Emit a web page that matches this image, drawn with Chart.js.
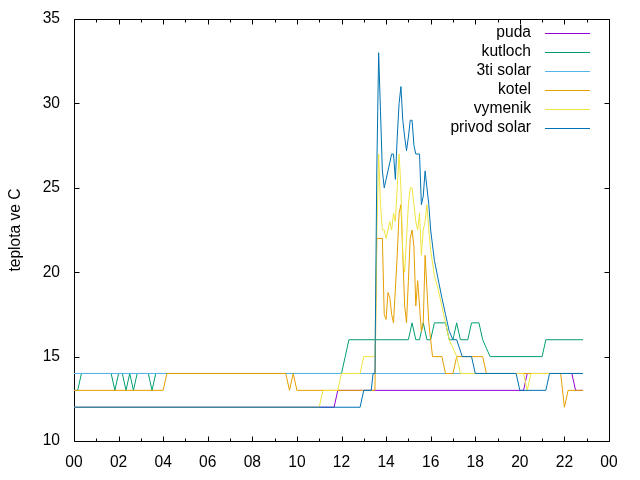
<!DOCTYPE html>
<html><head><meta charset="utf-8">
<script src="https://cdn.jsdelivr.net/npm/chart.js@4/dist/chart.umd.min.js"></script>
<style>html,body{margin:0;padding:0;background:#fff}</style>
</head><body>
<canvas id="c" width="640" height="480"></canvas>
<script>
// ---- data (time of day "HH:MM", temperature in C) ----
const seriesNames = ["puda","kutloch","3ti solar","kotel","vymenik","privod solar"];
const seriesColors = ["#9400d3","#009e73","#56b4e9","#e69f00","#f0e442","#0072b2"];

const pudaT = ["00:00","11:40","11:50","20:10","20:20","22:20","22:30","22:50"];
const pudaV = [12,12,13,13,14,14,13,13];

const kutlochT = ["00:00","00:10","00:20","01:40","01:50","02:00","02:10","02:20","02:30","02:40","02:50","03:20","03:30","03:40","12:00","12:10","12:20","15:00","15:10","15:20","15:30","15:40","15:50","16:00","16:10","16:40","16:50","17:00","17:10","17:20","17:40","17:50","18:10","18:20","18:30","18:40","21:00","21:10","22:50"];
const kutlochV = [13,13,14,14,13,14,14,13,14,13,14,14,13,14,14,15,16,16,17,16,16,17,16,16,17,17,16,16,17,16,16,17,17,16,15.5,15,15,16,16];

const solar3T = ["00:00","22:50"];
const solar3V = [14,14];

const kotelT = ["00:00","04:00","04:10","09:30","09:40","09:50","10:00","13:30","13:35","13:50","13:55","14:00","14:05","14:10","14:15","14:20","14:25","14:30","14:35","14:40","14:45","14:50","14:55","15:00","15:05","15:10","15:15","15:20","15:25","15:30","15:35","15:40","15:45","15:50","15:55","16:00","16:05","16:30","16:40","17:00","17:10","18:20","18:30","21:50","22:00","22:10","22:50"];
const kotelV = [13,13,14,14,13,14,13,13,22,22,17.5,17.2,18.8,18.5,17.5,17,19,21,23.5,24,21,18,17,19.5,22,22.5,21.5,18,19.5,18,16.5,17,21,19,17,16,15,15,14,14,15,15,14,14,12,13,13];

const vymenikT = ["00:00","11:00","11:10","11:50","12:00","12:50","13:00","13:30","13:35","13:40","13:45","13:50","13:55","14:00","14:05","14:10","14:15","14:20","14:25","14:30","14:35","14:40","14:45","14:50","14:55","15:00","15:05","15:10","15:15","15:20","15:25","15:30","15:35","15:40","15:45","15:50","15:55","16:00","16:10","16:20","16:30","16:40","16:50","17:00","17:10","17:20","20:10","20:20","20:30","22:50"];
const vymenikV = [12,12,13,13,14,14,15,15,22,27,24,22.5,22.5,22,22.5,23,22.5,23.5,23,25,27,25,21,20,22,24,25,25,24,23,22.5,23.5,21,22.5,23,24,22.5,21.3,19.8,19,18,17,16,15.5,15,14,14,13,14,14];

const privodT = ["00:00","12:50","13:00","13:20","13:25","13:30","13:35","13:40","13:45","13:50","13:55","14:00","14:05","14:10","14:15","14:20","14:25","14:30","14:35","14:40","14:45","14:50","14:55","15:00","15:05","15:10","15:15","15:20","15:30","15:35","15:40","15:45","15:50","15:55","16:00","16:10","16:20","16:30","16:40","16:50","17:00","17:10","17:25","17:50","18:00","19:50","20:00","21:10","21:20","22:50"];
const privodV = [12,12,13,13,14,14,26,33,29.5,26,25,25.5,26,26.5,27,27,25.5,28,30,31,29,28,27.2,28,29,29,27.5,27,27,24,24.5,26,25,24,22.5,20.7,19.6,18.5,17.5,16.5,16,16,15,15,14,14,13,13,14,14];

const xTickValues = [0,2,4,6,8,10,12,14,16,18,20,22,24];
const xTickLabels = ["00","02","04","06","08","10","12","14","16","18","20","22","00"];
const yTickValues = [10,15,20,25,30,35];

const FONT = "'Liberation Sans', Arial, sans-serif";
const FSIZE = 15.6;

function toHours(s){ const p = s.split(':'); return Number(p[0]) + Number(p[1]) / 60; }
function pts(T, V){ return T.map((t, i) => ({ x: toHours(t), y: V[i] })); }

const allT = [pudaT, kutlochT, solar3T, kotelT, vymenikT, privodT];
const allV = [pudaV, kutlochV, solar3V, kotelV, vymenikV, privodV];

const datasets = seriesNames.map((name, i) => ({
  label: name,
  data: pts(allT[i], allV[i]),
  borderColor: seriesColors[i],
  backgroundColor: seriesColors[i],
  borderWidth: 1,
  pointRadius: 0,
  tension: 0,
  fill: false,
  order: seriesNames.length - i
}));

const gnuFrame = {
  id: 'gnuFrame',
  beforeDatasetsDraw(chart){
    const ctx = chart.ctx, a = chart.chartArea;
    const xs = chart.scales.x, ys = chart.scales.y;
    const L = Math.round(a.left) + 0.5, R = Math.round(a.right) + 0.5;
    const T = Math.round(a.top) + 0.5, B = Math.round(a.bottom) + 0.5;
    ctx.save();
    ctx.strokeStyle = '#000';
    ctx.lineWidth = 1;
    ctx.beginPath();
    ctx.rect(L, T, R - L, B - T);
    for (let h = 0; h <= 24; h++) {
      const px = Math.round(xs.getPixelForValue(h)) + 0.5;
      const len = (h % 2 === 0) ? 5 : 3;
      ctx.moveTo(px, B); ctx.lineTo(px, B - len);
      ctx.moveTo(px, T); ctx.lineTo(px, T + len);
    }
    yTickValues.forEach(v => {
      const py = Math.round(ys.getPixelForValue(v)) + 0.5;
      ctx.moveTo(L, py); ctx.lineTo(L + 5, py);
      ctx.moveTo(R, py); ctx.lineTo(R - 5, py);
    });
    ctx.stroke();
    ctx.restore();
  },
  afterDatasetsDraw(chart){
    const ctx = chart.ctx;
    ctx.save();
    ctx.font = FSIZE + 'px ' + FONT;
    ctx.textAlign = 'right';
    ctx.textBaseline = 'middle';
    chart.data.datasets.forEach((ds, i) => {
      const y = 33 + i * 19;
      ctx.fillStyle = '#000';
      ctx.fillText(ds.label, 531, y);
      ctx.strokeStyle = ds.borderColor;
      ctx.lineWidth = 1;
      ctx.beginPath();
      ctx.moveTo(545, Math.round(y) + 0.5);
      ctx.lineTo(590, Math.round(y) + 0.5);
      ctx.stroke();
    });
    ctx.restore();
  }
};

new Chart(document.getElementById('c'), {
  type: 'line',
  data: { datasets },
  plugins: [gnuFrame],
  options: {
    responsive: false,
    animation: false,
    devicePixelRatio: 1,
    layout: { padding: { left: 0, right: 31, top: 19, bottom: 0 } },
    plugins: { legend: { display: false }, tooltip: { enabled: false } },
    scales: {
      x: {
        type: 'linear', min: 0, max: 24,
        afterFit(s){ s.height = 39; s.paddingLeft = 0; s.paddingRight = 0; },
        afterBuildTicks(s){ s.ticks = xTickValues.map(v => ({ value: v })); },
        ticks: {
          autoSkip: false, maxRotation: 0, padding: 12, color: '#000',
          font: { family: FONT, size: FSIZE },
          callback: (v, i) => xTickLabels[i]
        },
        grid: { display: false, drawTicks: false },
        border: { display: false }
      },
      y: {
        min: 10, max: 35,
        afterFit(s){ s.width = 74; s.paddingTop = 0; s.paddingBottom = 0; },
        afterBuildTicks(s){ s.ticks = yTickValues.map(v => ({ value: v })); },
        ticks: { padding: 14, color: '#000', font: { family: FONT, size: FSIZE } },
        title: { display: true, text: 'teplota ve C', color: '#000', font: { family: FONT, size: FSIZE }, padding: { top: 6, bottom: 0 } },
        grid: { display: false, drawTicks: false },
        border: { display: false }
      }
    }
  }
});
</script>
</body></html>
